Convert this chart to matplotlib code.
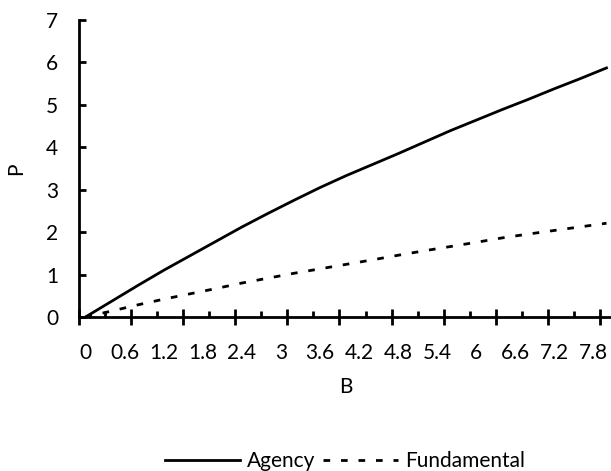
import numpy as np
import matplotlib.pyplot as plt

plt.rcParams['font.family'] = ['Lato', 'DejaVu Sans']

# valores
B = [0.0, 0.4, 0.8, 1.2, 1.6, 2.0, 2.4, 2.8, 3.2, 3.6, 4.0,
     4.4, 4.8, 5.2, 5.6, 6.0, 6.4, 6.8, 7.2, 7.6, 8.0]
agency = [0.0, 0.37, 0.74, 1.10, 1.44, 1.78, 2.12, 2.44, 2.75, 3.05, 3.33,
          3.59, 3.85, 4.12, 4.39, 4.64, 4.89, 5.13, 5.38, 5.62, 5.87]
fundamental = [0.0, 0.14, 0.285, 0.42, 0.545, 0.67, 0.80, 0.915, 1.03, 1.135, 1.24,
               1.345, 1.455, 1.56, 1.66, 1.76, 1.865, 1.955, 2.04, 2.125, 2.21]

x_labels = ['0', '0.6', '1.2', '1.8', '2.4', '3', '3.6', '4.2', '4.8', '5.4',
            '6', '6.6', '7.2', '7.8']
x_label_pos = [0.6 * i for i in range(len(x_labels))]

# eje de categorias: bordes cada 0.4 empezando en -0.1
edges = [-0.1 + 0.4 * k for k in range(21)]
long_ticks = edges[::2]
short_ticks = edges[1::2]

fs = 15

fig = plt.figure(figsize=(6.11, 4.71), dpi=100)
ax = fig.add_axes([79 / 611, 154 / 471, 534 / 611, 297 / 471])

ax.plot(B, agency, color='black', lw=2.0, label='Agency')
ax.plot(B, fundamental, color='black', lw=2.0, linestyle=(0, (2.4, 3.9)),
        label='Fundamental')

ax.set_xlim(-0.1, 8.1)
ax.set_ylim(0, 7)

for s in ['top', 'right']:
    ax.spines[s].set_visible(False)
for s in ['left', 'bottom']:
    ax.spines[s].set_linewidth(2.0)

ax.set_xticks(x_label_pos, x_labels)
ax.set_xticks(short_ticks, minor=True)
ax.tick_params(axis='x', which='major', length=0, pad=19, labelsize=fs)
ax.tick_params(axis='x', which='minor', direction='in', length=4.5, width=2.0)

sec = ax.secondary_xaxis('bottom')
sec.set_xticks(long_ticks)
sec.tick_params(direction='inout', length=11.5, width=2.0, labelbottom=False)
sec.spines['bottom'].set_visible(False)

ax.set_yticks(range(8))
ax.tick_params(axis='y', direction='in', length=5, width=2.0, pad=15, labelsize=fs)

ax.set_xlabel('B', fontsize=fs, labelpad=10)
ax.set_ylabel('P', fontsize=fs, labelpad=14)

fig.legend(loc='center', bbox_to_anchor=(345 / 611, 1 - 461 / 471), ncol=2,
           frameon=False, fontsize=fs, handlelength=3.6, handletextpad=0.35,
           columnspacing=0.35)

plt.savefig('out.png')
